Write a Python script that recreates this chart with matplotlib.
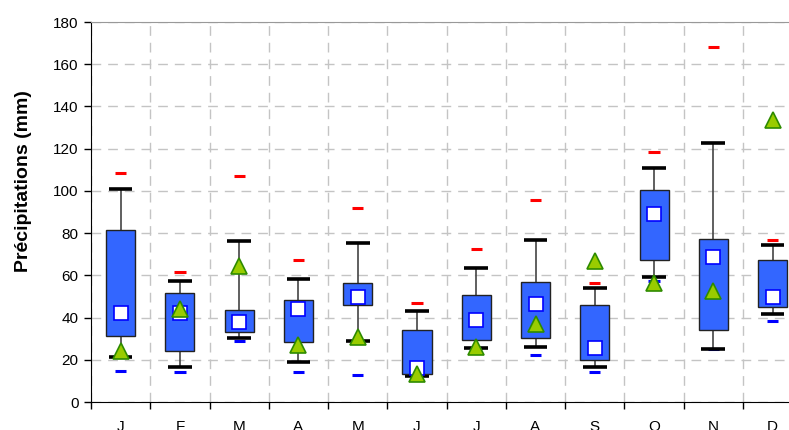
import matplotlib.pyplot as plt
import numpy as np

plt.rcParams['font.family'] = ['Liberation Sans', 'DejaVu Sans']

mois = ['J', 'F', 'M', 'A', 'M', 'J', 'J', 'A', 'S', 'O', 'N', 'D']

# statistiques mensuelles des précipitations (mm)
maxi = [108.6, 61.7, 106.9, 67.1, 92.0, 46.7, 72.3, 95.5, 56.4, 118.6, 168.0, 76.6]
whisk_haut = [100.9, 57.5, 76.1, 58.1, 75.3, 43.1, 63.6, 76.6, 54.1, 111.0, 122.8, 74.2]
q3 = [81.5, 51.8, 43.4, 48.3, 56.5, 34.1, 50.5, 57.0, 45.9, 100.6, 77.1, 67.3]
q1 = [31.3, 24.0, 33.0, 28.3, 45.9, 13.4, 29.2, 30.5, 19.9, 67.4, 34.1, 44.9]
whisk_bas = [21.3, 16.6, 30.2, 18.9, 28.9, 12.5, 25.6, 26.1, 16.6, 59.4, 25.0, 41.7]
mini = [14.8, 14.2, 28.9, 14.2, 12.9, 12.5, 25.6, 22.4, 14.2, 57.5, 25.0, 38.5]
moyenne = [42.2, 42.2, 38.0, 44.1, 49.9, 16.1, 38.7, 46.3, 25.4, 89.1, 68.8, 49.9]
annee = [24.0, 44.0, 64.3, 27.2, 30.9, 13.3, 26.2, 36.8, 66.6, 56.4, 52.4, 133.6]

W, H = 789, 430
fig = plt.figure(figsize=(W / 100, H / 100), dpi=100)
ax = fig.add_axes([91 / W, 28 / H, 12 * 59.27 / W, 380 / H])

x = np.arange(12) + 0.5
box_w = 0.49
cap_w = 0.40
dash_w = 0.19

# moustaches
ax.vlines(x, whisk_bas, q1, color='#444444', lw=1.2, zorder=2)
ax.vlines(x, q3, whisk_haut, color='#444444', lw=1.2, zorder=2)
ax.hlines(whisk_haut, x - cap_w / 2, x + cap_w / 2, color='black', lw=2.6, zorder=3)
ax.hlines(whisk_bas, x - cap_w / 2, x + cap_w / 2, color='black', lw=2.6, zorder=3)

# boîtes
ax.bar(x, np.array(q3) - np.array(q1), bottom=q1, width=box_w,
       color='#3366FF', edgecolor='#222222', lw=1.0, zorder=3)

# extrêmes
ax.hlines(maxi, x - dash_w / 2, x + dash_w / 2, color='#FF0000', lw=2.2, zorder=4)
ax.hlines(mini, x - dash_w / 2, x + dash_w / 2, color='#0000FF', lw=2.2, zorder=2.5)

# moyenne et année
ax.plot(x, moyenne, ls='none', marker='s', ms=10, mfc='white', mec='#0000FF',
        mew=1.2, zorder=5)
ax.plot(x, annee, ls='none', marker='^', ms=12, mfc='#99CC00', mec='#2E8B00',
        mew=1.2, zorder=6)

ax.set_xlim(0, 12)
ax.set_ylim(0, 180)
ax.set_yticks(np.arange(0, 181, 20))
ax.set_xticks(np.arange(0, 13))
ax.set_xticklabels([])
ax.set_xticks(x, minor=True)
ax.set_xticklabels(mois, minor=True)
ax.tick_params(axis='x', which='minor', length=0, pad=13, labelsize=11)
ax.tick_params(axis='x', which='major', length=5, width=1, direction='out')
ax.tick_params(axis='y', length=5, width=1, labelsize=11, pad=4)

ax.grid(True, which='major', color='#C4C4C4', ls=(0, (7, 5)), lw=1.0, zorder=0)
ax.set_axisbelow(True)

ax.spines['top'].set_color('#999999')
ax.spines['right'].set_visible(False)
ax.spines['left'].set_color('black')
ax.spines['bottom'].set_color('black')

ax.set_ylabel('Précipitations (mm)', fontsize=14, fontweight='bold')
ax.yaxis.set_label_coords(-59 / (12 * 59.27), (402 - 181) / 380)

fig.savefig('out.png', dpi=100)
